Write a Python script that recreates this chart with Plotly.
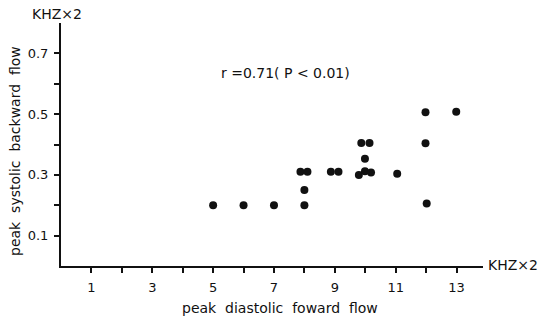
import plotly.graph_objects as go

# Data
x_vals = [5, 6, 7, 8, 8, 7.87, 8.1, 8.87, 9.12, 9.79, 9.99, 10.19, 9.99, 9.87, 10.14, 11.05, 11.98, 12.99, 11.98, 12.02]
y_vals = [0.2, 0.2, 0.2, 0.2, 0.25, 0.31, 0.31, 0.31, 0.31, 0.30, 0.312, 0.308, 0.353, 0.405, 0.405, 0.304, 0.506, 0.508, 0.404, 0.206]

x_tick_vals = [1, 2, 3, 4, 5, 6, 7, 8, 9, 10, 11, 12, 13]
x_tick_text = ["1", "", "3", "", "5", "", "7", "", "9", "", "11", "", "13"]
y_tick_vals = [0.1, 0.2, 0.3, 0.4, 0.5, 0.6, 0.7]
y_tick_text = ["0.1", "", "0.3", "", "0.5", "", "0.7"]

NB = "\u00a0"
x_title = f"peak{NB}{NB}diastolic{NB}{NB}foward{NB}{NB}flow"
y_title = f"peak{NB}{NB}systolic{NB}{NB}backward{NB}{NB}flow"
unit_label = "KHZ×2"
stat_label = f"r{NB}=0.71({NB}P{NB}<{NB}0.01)"

FONT = "DejaVu Sans, Liberation Sans, sans-serif"
W, H, L, T, R, B = 542, 318, 61, 23, 59, 52
pw, ph = W - L - R, H - T - B


def px_to_paper(px, py):
    return (px - L) / pw, (H - B - py) / ph


fig = go.Figure()
fig.add_trace(go.Scatter(
    x=x_vals, y=y_vals, mode="markers",
    marker=dict(color="#111111", size=8, line=dict(width=0)),
    showlegend=False, cliponaxis=False,
))

fig.update_layout(
    width=W, height=H,
    margin=dict(l=L, r=R, t=T, b=B),
    paper_bgcolor="white", plot_bgcolor="white",
    font=dict(family=FONT, size=13, color="#111111"),
    xaxis=dict(
        range=[0, 13.87], showgrid=False, zeroline=False,
        showline=True, linecolor="#111111", linewidth=2,
        ticks="outside", ticklen=5, tickwidth=1.5, tickcolor="#111111",
        tickvals=x_tick_vals, ticktext=x_tick_text,
        tickfont=dict(size=13), ticklabelstandoff=3,
    ),
    yaxis=dict(
        range=[0, 0.8], showgrid=False, zeroline=False,
        showline=True, linecolor="#111111", linewidth=2,
        ticks="outside", ticklen=5, tickwidth=1.5, tickcolor="#111111",
        tickvals=y_tick_vals, ticktext=y_tick_text,
        tickfont=dict(size=13), ticklabelstandoff=3,
    ),
)

ax, ay = px_to_paper(280, 308)
fig.add_annotation(x=ax, y=ay, xref="paper", yref="paper", text=x_title, showarrow=False,
                   font=dict(size=14), xanchor="center", yanchor="middle")
ax, ay = px_to_paper(15, 151)
fig.add_annotation(x=ax, y=ay, xref="paper", yref="paper", text=y_title, showarrow=False,
                   font=dict(size=14), textangle=-90, xanchor="center", yanchor="middle")
ax, ay = px_to_paper(57, 14)
fig.add_annotation(x=ax, y=ay, xref="paper", yref="paper", text=unit_label, showarrow=False,
                   font=dict(size=14), xanchor="center", yanchor="middle")
ax, ay = px_to_paper(540, 265)
fig.add_annotation(x=ax, y=ay, xref="paper", yref="paper", text=unit_label, showarrow=False,
                   font=dict(size=14), xanchor="right", yanchor="middle")
fig.add_annotation(x=5.18, y=0.635, xref="x", yref="y", xanchor="left", yanchor="middle",
                   text=stat_label, showarrow=False, font=dict(size=14))

fig.write_html("out.html", config={"displayModeBar": False},
               post_script="document.body.style.margin='0';document.body.style.overflow='hidden';")
